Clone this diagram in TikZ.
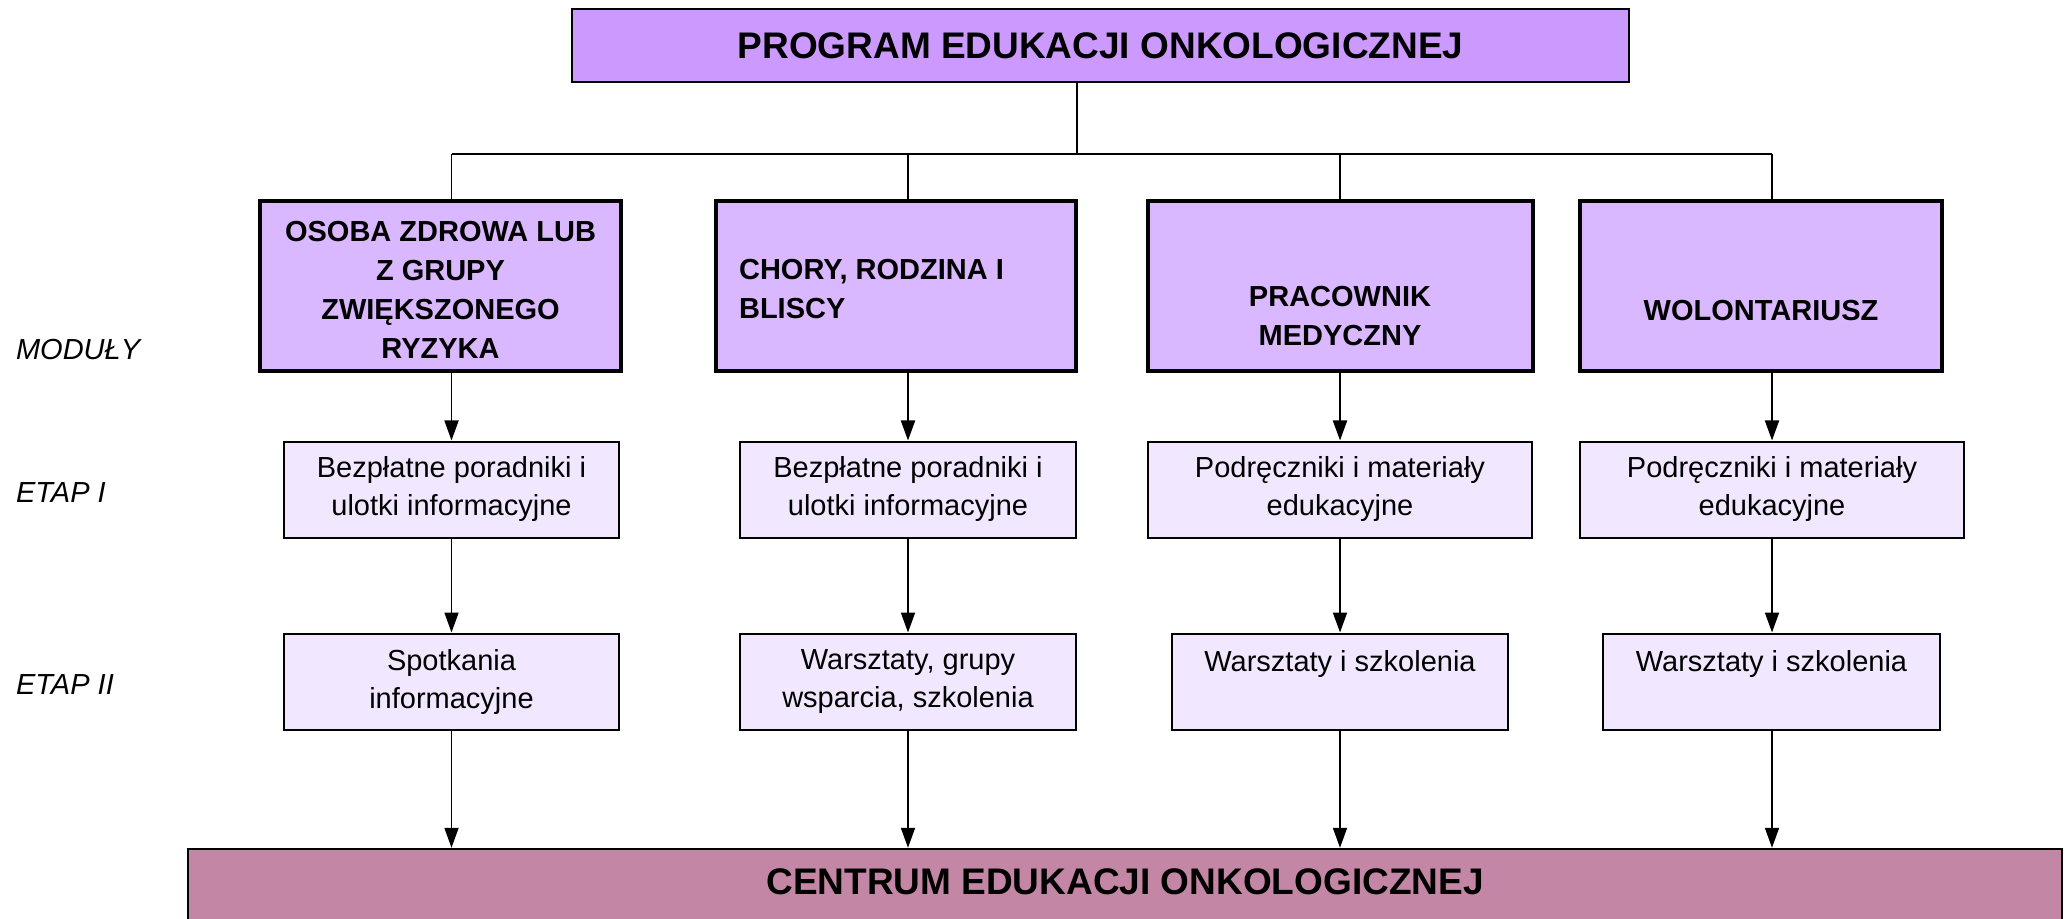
\documentclass[tikz,border=0pt]{standalone}
\usepackage{fontspec}
\setmainfont{Liberation Sans}
\usetikzlibrary{arrows.meta}
\definecolor{topfill}{HTML}{CC99FF}
\definecolor{modfill}{HTML}{DAB8FF}
\definecolor{etapfill}{HTML}{F1E8FF}
\definecolor{centfill}{HTML}{C386A4}
\begin{document}
\begin{tikzpicture}[x=0.5pt,y=-0.5pt,
  box/.style={draw=black, rectangle, inner sep=0pt},
  topbox/.style={box, fill=topfill, line width=1.2pt},
  modbox/.style={box, fill=modfill, line width=2.4pt},
  etapbox/.style={box, fill=etapfill, line width=1pt, minimum height=48pt},
  centbox/.style={box, fill=centfill, line width=1.2pt},
  modtxt/.style={font=\fontsize{14.5}{19.5}\selectfont\bfseries, align=center},
  etaptxt/.style={font=\fontsize{14.5}{19}\selectfont, align=center},
  bigtxt/.style={font=\fontsize{18.5}{22}\selectfont\bfseries},
  sidetxt/.style={font=\fontsize{14.5}{18}\selectfont\itshape, anchor=west},
  conn/.style={line width=0.9pt},
  arr/.style={conn, -{Triangle[length=10pt,width=7pt]}}
]
\useasboundingbox (0,0) rectangle (2071,919);

% top
\node[topbox, bigtxt, minimum width=528.5pt, minimum height=36.5pt] (top) at (1100.5,45.5) {PROGRAM EDUKACJI ONKOLOGICZNEJ};

% modules
\node[modbox, minimum width=180.5pt, minimum height=85pt] (m1) at (440.5,286) {};
\node[modtxt] (m1t) at (440.5,290) {OSOBA ZDROWA LUB\\Z GRUPY\\ZWIĘKSZONEGO\\RYZYKA};
\node[modbox, minimum width=180pt, minimum height=85pt] (m2) at (896,286) {};
\node[modtxt, align=left, anchor=west] (m2t) at (732,289) {CHORY, RODZINA I\\BLISCY};
\node[modbox, minimum width=192.5pt, minimum height=85pt] (m3) at (1340.5,286) {};
\node[modtxt] (m3t) at (1340,316) {PRACOWNIK\\MEDYCZNY};
\node[modbox, minimum width=181pt, minimum height=85pt] (m4) at (1761,286) {};
\node[modtxt] (m4t) at (1761,311) {WOLONTARIUSZ};

% etap I
\node[etapbox, etaptxt, minimum width=167.5pt] (e1) at (451.5,489.5) {Bezpłatne poradniki i\\ulotki informacyjne};
\node[etapbox, etaptxt, minimum width=168pt] (e2) at (908,489.5) {Bezpłatne poradniki i\\ulotki informacyjne};
\node[etapbox, etaptxt, minimum width=192pt] (e3) at (1340,489.5) {Podręczniki i materiały\\edukacyjne};
\node[etapbox, etaptxt, minimum width=192pt] (e4) at (1772,489.5) {Podręczniki i materiały\\edukacyjne};

% etap II
\node[etapbox, etaptxt, minimum width=167.5pt] (f1) at (451.5,681.5) {Spotkania\\informacyjne};
\node[etapbox, etaptxt, minimum width=168pt] (f2) at (908,681.5) {Warsztaty, grupy\\wsparcia, szkolenia};
\node[etapbox, minimum width=168pt] (f3) at (1340,681.5) {};
\node[etaptxt] (f3t) at (1340,664) {Warsztaty i szkolenia};
\node[etapbox, minimum width=168.5pt] (f4) at (1771.5,681.5) {};
\node[etaptxt] (f4t) at (1771.5,664) {Warsztaty i szkolenia};

% centre
\node[centbox, minimum width=937pt, minimum height=45pt] (centre) at (1125,894) {};
\node[bigtxt] (centt) at (1125,882) {CENTRUM EDUKACJI ONKOLOGICZNEJ};

% side labels
\node[sidetxt] (lm) at (9,350) {MODUŁY};
\node[sidetxt] (l1) at (9,493) {ETAP I};
\node[sidetxt] (l2) at (9,685) {ETAP II};

% connectors
\coordinate (hub) at (1077,154);
\draw[conn] (hub |- top.south) -- (hub);
\draw[conn] (e1 |- hub) -- (e4 |- hub);
\foreach \c/\m in {e1/m1,e2/m2,e3/m3,e4/m4} {
  \draw[conn] (\c |- hub) -- (\c |- \m.north);
  \draw[arr] (\c |- \m.south) -- (\c.north);
}
\foreach \c/\f in {e1/f1,e2/f2,e3/f3,e4/f4} {
  \draw[arr] (\c.south) -- (\c.south |- \f.north);
  \draw[arr] (\c.south |- \f.south) -- (\c.south |- centre.north);
}
\end{tikzpicture}
\end{document}
